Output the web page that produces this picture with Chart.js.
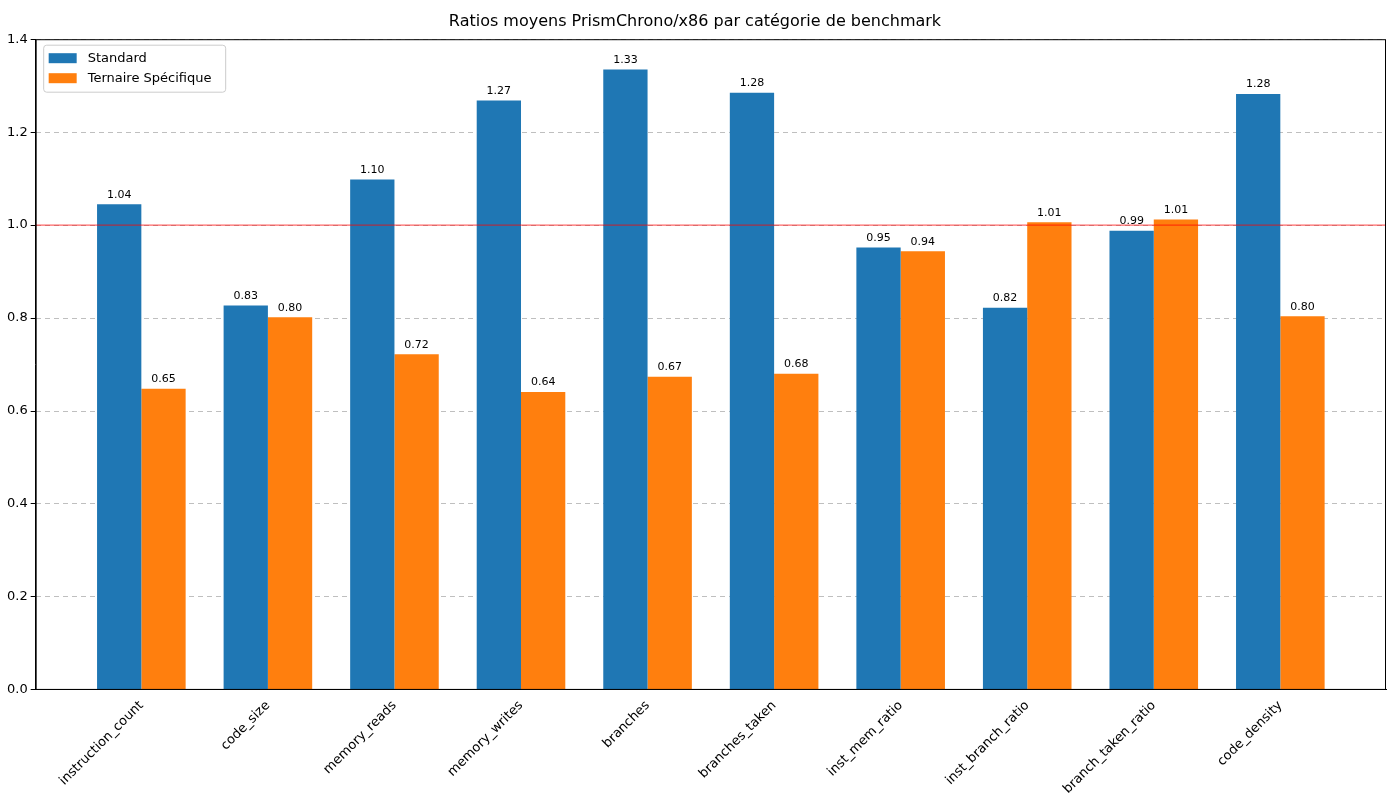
<!DOCTYPE html>
<html><head><meta charset="utf-8">
<script src="https://cdn.jsdelivr.net/npm/chart.js@4/dist/chart.umd.min.js"></script>
<style>body{margin:0;background:#fff}#wrap{width:1400px;height:800px}</style>
</head><body><div id="wrap"><canvas id="c"></canvas></div>
<script>
const categories = ['instruction_count','code_size','memory_reads','memory_writes','branches','branches_taken','inst_mem_ratio','inst_branch_ratio','branch_taken_ratio','code_density'];
const standard = [1.045,0.827,1.098,1.268,1.335,1.285,0.952,0.822,0.988,1.282];
const ternaire = [0.648,0.802,0.722,0.641,0.674,0.680,0.944,1.006,1.012,0.804];
const yTicks = [0,0.2,0.4,0.6,0.8,1.0,1.2,1.4];

const font = '"DejaVu Sans", sans-serif';

const extras = {
  id: 'extras',
  afterDatasetsDraw(chart) {
    const ctx = chart.ctx, a = chart.chartArea, y = chart.scales.y;
    // reference line
    const py = y.getPixelForValue(1.0);
    ctx.save();
    ctx.strokeStyle = 'rgba(255,0,0,0.6)'; ctx.lineWidth = 1.2;
    ctx.beginPath(); ctx.moveTo(a.left, py); ctx.lineTo(a.right, py); ctx.stroke();
    // value labels
    ctx.fillStyle = '#000'; ctx.font = '11px ' + font; ctx.textAlign = 'center'; ctx.textBaseline = 'bottom';
    chart.data.datasets.forEach((ds, i) => {
      chart.getDatasetMeta(i).data.forEach((bar, j) => {
        ctx.fillText(ds.data[j].y.toFixed(2), bar.x, bar.y - 4);
      });
    });
    // frame
    ctx.strokeStyle = '#000'; ctx.lineWidth = 1;
    ctx.strokeRect(a.left + 0.5, a.top + 0.5, a.right - a.left - 1, a.bottom - a.top - 1);
    // legend
    const lx = a.left + 8, ly = a.top + 6;
    ctx.fillStyle = 'rgba(255,255,255,0.8)'; ctx.strokeStyle = '#ccc';
    ctx.beginPath(); ctx.roundRect(lx, ly, 182, 47, 3); ctx.fill(); ctx.stroke();
    ctx.font = '13px ' + font; ctx.textAlign = 'left'; ctx.textBaseline = 'middle';
    [['Standard','#1f77b4'],['Ternaire Spécifique','#ff7f0e']].forEach(([t,c],k) => {
      ctx.fillStyle = c; ctx.fillRect(lx + 5, ly + 8 + k*20, 28, 10);
      ctx.fillStyle = '#000'; ctx.fillText(t, lx + 44, ly + 13 + k*20);
    });
    ctx.restore();
  }
};

new Chart(document.getElementById('c'), {
  type: 'bar',
  data: {
    datasets: [
      { label: 'Standard', data: standard.map((v,i)=>({x:i,y:v})), backgroundColor: '#1f77b4' },
      { label: 'Ternaire Spécifique', data: ternaire.map((v,i)=>({x:i,y:v})), backgroundColor: '#ff7f0e' }
    ]
  },
  options: {
    responsive: true, maintainAspectRatio: false, animation: false,
    categoryPercentage: 0.7, barPercentage: 1.0,
    layout: { padding: { left: 4, right: 14, top: 0, bottom: 0 } },
    plugins: {
      legend: { display: false }, tooltip: { enabled: false },
      title: { display: true, text: 'Ratios moyens PrismChrono/x86 par catégorie de benchmark',
               color: '#000', font: { family: font, size: 16, weight: 'normal' }, padding: { top: 12, bottom: 8 } }
    },
    scales: {
      x: {
        type: 'linear', min: -0.835, max: 9.835, offset: false,
        afterBuildTicks: s => { s.ticks = categories.map((_, i) => ({ value: i })); },
        ticks: { callback: v => categories[v], color: '#000', minRotation: 45, maxRotation: 45,
                 font: { family: font, size: 13 }, autoSkip: false },
        grid: { display: false, drawTicks: true, tickLength: 5, color: '#000' },
        border: { color: '#000' }
      },
      y: {
        min: 0, max: 1.4,
        afterBuildTicks: s => { s.ticks = yTicks.map(v => ({ value: v })); },
        ticks: { callback: v => v.toFixed(1), color: '#000', font: { family: font, size: 13 } },
        grid: { color: 'rgba(0,0,0,0.25)', tickColor: '#000', tickLength: 5, drawTicks: true },
        border: { dash: [5,4], color: '#000' }
      }
    }
  },
  plugins: [extras]
});
</script></body></html>
